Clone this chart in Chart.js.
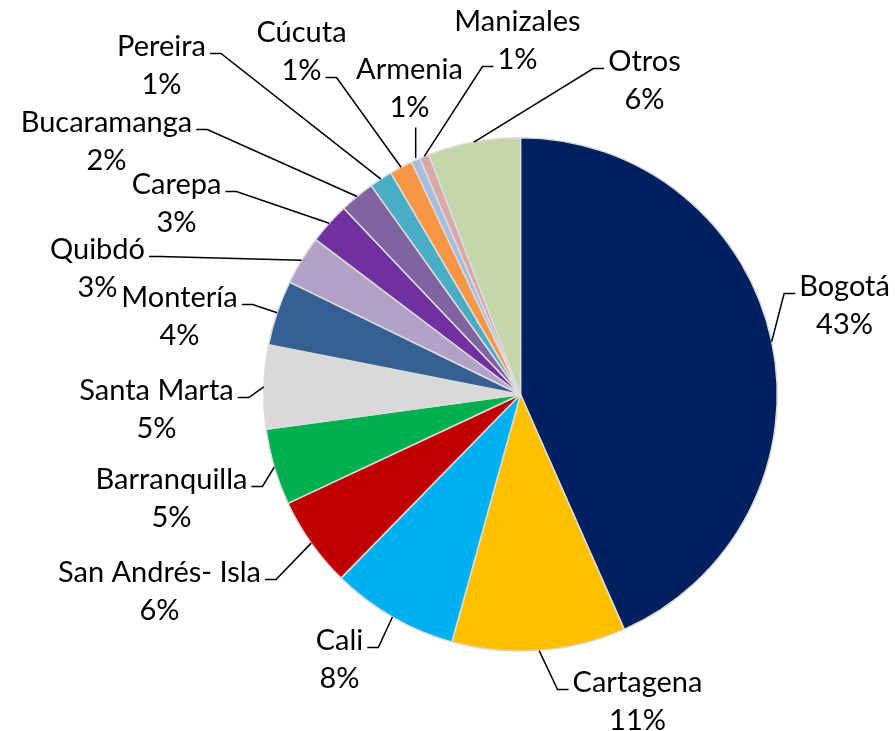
<!DOCTYPE html>
<html>
<head>
<meta charset="utf-8">
<script src="https://cdn.jsdelivr.net/npm/chart.js@4"></script>
<style>
  body { margin: 0; background: #fff; }
  canvas { display: block; }
</style>
</head>
<body>
<canvas id="myChart" width="895" height="731"></canvas>
<script>
// data
let categories = ['Bogotá', 'Cartagena', 'Cali', 'San Andrés- Isla', 'Barranquilla', 'Santa Marta',
    'Montería', 'Quibdó', 'Carepa', 'Bucaramanga', 'Pereira', 'Cúcuta', 'Armenia', 'Manizales', 'Otros'];
let values = [43.3, 10.9, 8.0, 5.7, 4.8, 5.25, 4.1, 3.1, 2.6, 2.2, 1.45, 1.45, 0.56, 0.6, 5.8];
let colors = ['#002060', '#FFC000', '#00B0F0', '#C00000', '#00B050', '#D9D9D9',
    '#376092', '#B3A2C7', '#7030A0', '#8064A2', '#4BACC6', '#F79646', '#A9BCDD', '#D9A8A8', '#C4D6AA'];

// label layout: first text line centre, offset from pie centre; where the leader attaches
let labelOffset = [[324, -108], [117, 288], [-181, 246], [-361, 178], [-349, 85], [-364, -4],
    [-341, -97], [-423, -145], [-344, -210], [-414, -272], [-359, -348], [-219, -362],
    [-111, -325], [-3, -373], [124, -333]];
let attachSide = ['left', 'left', 'right', 'right', 'right', 'right', 'right', 'right', 'right',
    'right', 'right', 'right', 'bottom', 'left', 'left'];
let attachLine = [0, 0, 0, 0, 0, 0, 0, 0, 0, 0, 0, 1, 1, 1, 0];

let total = values.reduce((a, b) => a + b, 0);
let font = '29px Lato';
let lineGap = 38;

let labelPlugin = {
    id: 'pieLabels',
    afterDraw(chart) {
        let ctx = chart.ctx;
        let arcs = chart.getDatasetMeta(0).data;
        ctx.save();
        ctx.font = font;
        ctx.fillStyle = '#000';
        ctx.strokeStyle = '#000';
        ctx.lineWidth = 1.5;
        ctx.textAlign = 'center';
        ctx.textBaseline = 'middle';
        arcs.forEach((arc, i) => {
            let lines = [categories[i], Math.round(values[i] / total * 100) + '%'];
            let tx = arc.x + labelOffset[i][0];
            let ty = arc.y + labelOffset[i][1];
            lines.forEach((t, k) => ctx.fillText(t, tx, ty + k * lineGap));

            let mid = (arc.startAngle + arc.endAngle) / 2;
            let rx = arc.x + Math.cos(mid) * arc.outerRadius;
            let ry = arc.y + Math.sin(mid) * arc.outerRadius;

            ctx.beginPath();
            if (attachSide[i] === 'bottom') {
                ctx.moveTo(rx, ry - 2);
                ctx.lineTo(rx, ty + attachLine[i] * lineGap + 20);
            } else {
                let w = ctx.measureText(lines[attachLine[i]]).width;
                let ly = ty + attachLine[i] * lineGap + 7;
                let ex, hx;
                if (attachSide[i] === 'left') {
                    hx = tx - w / 2 - 4;
                    ex = hx - 11;
                } else {
                    hx = tx + w / 2 + 4;
                    ex = hx + 11;
                }
                ctx.moveTo(hx, ly);
                ctx.lineTo(ex, ly);
                ctx.lineTo(rx, ry);
            }
            ctx.stroke();
        });
        ctx.restore();
    }
};

let ctx = document.getElementById('myChart').getContext('2d');
let myChart = new Chart(ctx, {
    type: 'pie',
    data: {
        labels: categories,
        datasets: [{
            data: values,
            backgroundColor: colors,
            borderColor: '#DCDCDC',
            borderWidth: 1.5
        }]
    },
    options: {
        responsive: false,
        animation: false,
        layout: {
            padding: { left: 263, right: 117, top: 137, bottom: 79 }
        },
        plugins: {
            legend: { display: false },
            tooltip: { enabled: false }
        }
    },
    plugins: [labelPlugin]
});
</script>
</body>
</html>
